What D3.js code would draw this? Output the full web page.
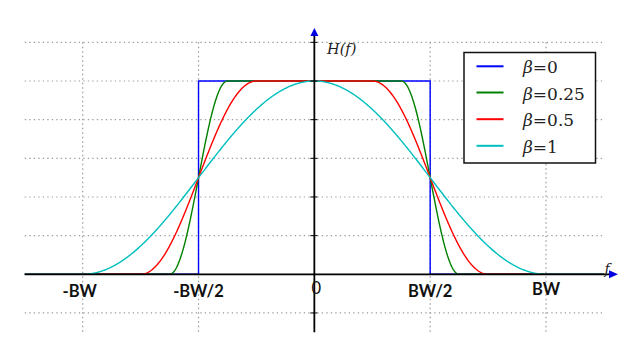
<!DOCTYPE html>
<html>
<head>
<meta charset="utf-8">
<script src="https://cdn.jsdelivr.net/npm/d3@7"></script>
<style>
  html, body { margin: 0; padding: 0; background: #fff; }
  svg { display: block; }
</style>
</head>
<body>
<svg id="chart" width="629" height="347"></svg>
<script>
// Raised-cosine spectra H(f) for several roll-off factors (f in units of BW)
const betas = [0, 0.25, 0.5, 1];
const seriesNames = ["β=0", "β=0.25", "β=0.5", "β=1"];
const colors = ["#0000ff", "#008000", "#ff0000", "#00bfbf"];
const xTickValues = [-1, -0.5, 0, 0.5, 1];
const xTickLabels = ["-BW", "-BW/2", "0", "BW/2", "BW"];
const yGridValues = [-0.2, 0.2, 0.4, 0.6, 0.8, 1.0, 1.2];
const xGridValues = [-1, -0.5, 0.5, 1];

const svg = d3.select("#chart");
const x = d3.scaleLinear().domain([-1, 1]).range([82.7, 546]);
const y = d3.scaleLinear().domain([0, 1]).range([274.3, 81]);

const gridX0 = -1.25, gridX1 = 1.25, gridY0 = -0.2, gridY1 = 1.2;

// dotted grid
const grid = svg.append("g").attr("stroke", "#9a9a9a").attr("stroke-width", 1.2)
  .attr("stroke-dasharray", "1.3,3.2");
grid.selectAll("line.h").data(yGridValues).join("line").attr("class", "h")
  .attr("x1", x(gridX0)).attr("x2", x(gridX1))
  .attr("y1", d => y(d)).attr("y2", d => y(d));
grid.selectAll("line.v").data(xGridValues).join("line").attr("class", "v")
  .attr("x1", d => x(d)).attr("x2", d => x(d))
  .attr("y1", y(gridY1)).attr("y2", y(gridY0) + 20);

// raised-cosine response for roll-off b
function H(f, b) {
  const a = Math.abs(f);
  const lo = (1 - b) / 2, hi = (1 + b) / 2;
  if (a <= lo) return 1;
  if (a > hi) return 0;
  return 0.5 * (1 + Math.cos(Math.PI / b * (a - lo)));
}
function curvePoints(b) {
  if (b === 0) {
    return [[gridX0, 0], [-0.5, 0], [-0.5, 1], [0.5, 1], [0.5, 0], [gridX1, 0]];
  }
  const pts = [];
  const n = 1000;
  for (let i = 0; i <= n; i++) {
    const f = gridX0 + (gridX1 - gridX0) * i / n;
    pts.push([f, H(f, b)]);
  }
  return pts;
}

const line = d3.line().x(d => x(d[0])).y(d => y(d[1]));
svg.append("g").selectAll("path").data(betas).join("path")
  .attr("d", b => line(curvePoints(b)))
  .attr("fill", "none")
  .attr("stroke", (b, i) => colors[i])
  .attr("stroke-width", 1.4);

// axes
const axes = svg.append("g").attr("stroke", "#000").attr("stroke-width", 1.8);
axes.append("line").attr("x1", x(gridX0)).attr("x2", 612)
  .attr("y1", y(0)).attr("y2", y(0));
axes.append("line").attr("x1", x(0)).attr("x2", x(0))
  .attr("y1", y(-0.3)).attr("y2", 33);
// y-axis ticks
svg.append("g").attr("stroke", "#000").attr("stroke-width", 1)
  .selectAll("line").data(yGridValues).join("line")
  .attr("x1", x(0) - 4).attr("x2", x(0) + 3)
  .attr("y1", d => y(d)).attr("y2", d => y(d));

// arrowheads
svg.append("path")
  .attr("d", `M${x(0)},28 L${x(0) - 4},36 L${x(0) + 4},36 Z`)
  .attr("fill", "#0000e0");
svg.append("path")
  .attr("d", `M618,${y(0)} L609,${y(0) - 4} L609,${y(0) + 4} Z`)
  .attr("fill", "#0000e0");

// axis titles
svg.append("text").attr("x", 327).attr("y", 54)
  .attr("font-family", "DejaVu Serif").attr("font-style", "italic")
  .attr("font-size", 14.5).attr("fill", "#222").text("H(f)");
svg.append("text").attr("x", 607).attr("y", 274).attr("text-anchor", "middle")
  .attr("font-family", "DejaVu Serif").attr("font-style", "italic")
  .attr("font-size", 14).attr("fill", "#222").text("f");

// x tick labels
svg.append("g").selectAll("text").data(xTickValues).join("text")
  .attr("x", (d, i) => x(d) + (d === 0 ? 2 : (d === -1 ? -3 : 0)))
  .attr("y", d => d === 0 ? 294 : (d === 1 ? 295 : 297))
  .attr("text-anchor", "middle")
  .attr("font-family", "Lato, 'Open Sans', sans-serif")
  .attr("font-weight", d => d === 0 ? "normal" : "bold")
  .attr("font-size", 16.5).attr("fill", "#111")
  .text((d, i) => xTickLabels[i]);

// legend
const lg = svg.append("g");
lg.append("rect").attr("x", 464).attr("y", 52.5).attr("width", 131.5).attr("height", 110.5)
  .attr("fill", "#fff").attr("stroke", "#111").attr("stroke-width", 1.5);
const rowY = [66.3, 92.5, 119.2, 145.8];
const rows = lg.selectAll("g.row").data(betas).join("g").attr("class", "row");
rows.append("line").attr("x1", 476.5).attr("x2", 503.5)
  .attr("y1", (d, i) => rowY[i]).attr("y2", (d, i) => rowY[i])
  .attr("stroke", (d, i) => colors[i]).attr("stroke-width", 2);
const txt = rows.append("text").attr("x", 523).attr("y", (d, i) => rowY[i] + 7)
  .attr("font-family", "DejaVu Serif").attr("font-size", 17).attr("fill", "#222");
txt.append("tspan").attr("font-style", "italic").text(d => "β");
txt.append("tspan").text((d, i) => seriesNames[i].slice(1));
</script>
</body>
</html>
